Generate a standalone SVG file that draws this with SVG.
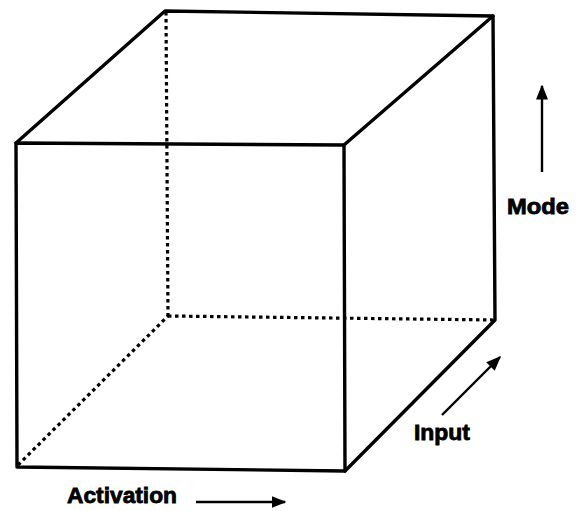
<svg xmlns="http://www.w3.org/2000/svg" width="577" height="511" viewBox="0 0 577 511">
<style>
.solid{fill:none;stroke:#000;stroke-width:3.4;stroke-linejoin:round;stroke-linecap:round}
.dash{fill:none;stroke:#000;stroke-width:3.2;stroke-dasharray:3.5 3.5;stroke-linecap:butt}
.arr{fill:none;stroke:#000;stroke-width:2.4}
.lbl{font-family:"Liberation Sans",Arial,sans-serif;font-weight:bold;font-size:22px;fill:#000;stroke:#000;stroke-width:0.8}
</style>
<defs>
<marker id="ahb" viewBox="0 0 10 10" refX="9" refY="5" markerWidth="15" markerHeight="12" markerUnits="userSpaceOnUse" orient="auto" preserveAspectRatio="none">
<path d="M0,0 L10,5 L0,10 Z" fill="#000"/>
</marker>
</defs>
<g id="cube">
<path class="dash" d="M166,12 L168,316"/>
<path class="dash" d="M168,316 L495,320"/>
<path class="dash" d="M18,465 L168,316"/>
<path class="solid" d="M16,143 L344,145 L345,471 L17,467 Z"/>
<path class="solid" d="M16,143 L165,11 L493,16 L344,145"/>
<path class="solid" d="M493,16 L495,320 L345,471"/>
</g>
<g id="connectors">
<line class="arr" x1="196" y1="502" x2="285" y2="502" marker-end="url(#ahb)"/>
<line class="arr" x1="442" y1="415" x2="500" y2="357" marker-end="url(#ahb)"/>
<line class="arr" x1="542" y1="172" x2="542" y2="86" marker-end="url(#ahb)"/>
</g>
<g id="label-activation"><text class="lbl" x="67" y="503" textLength="110" lengthAdjust="spacingAndGlyphs">Activation</text></g>
<g id="label-input"><text class="lbl" x="414" y="440" textLength="56" lengthAdjust="spacingAndGlyphs">Input</text></g>
<g id="label-mode"><text class="lbl" x="507" y="214" textLength="62" lengthAdjust="spacingAndGlyphs">Mode</text></g>
</svg>
